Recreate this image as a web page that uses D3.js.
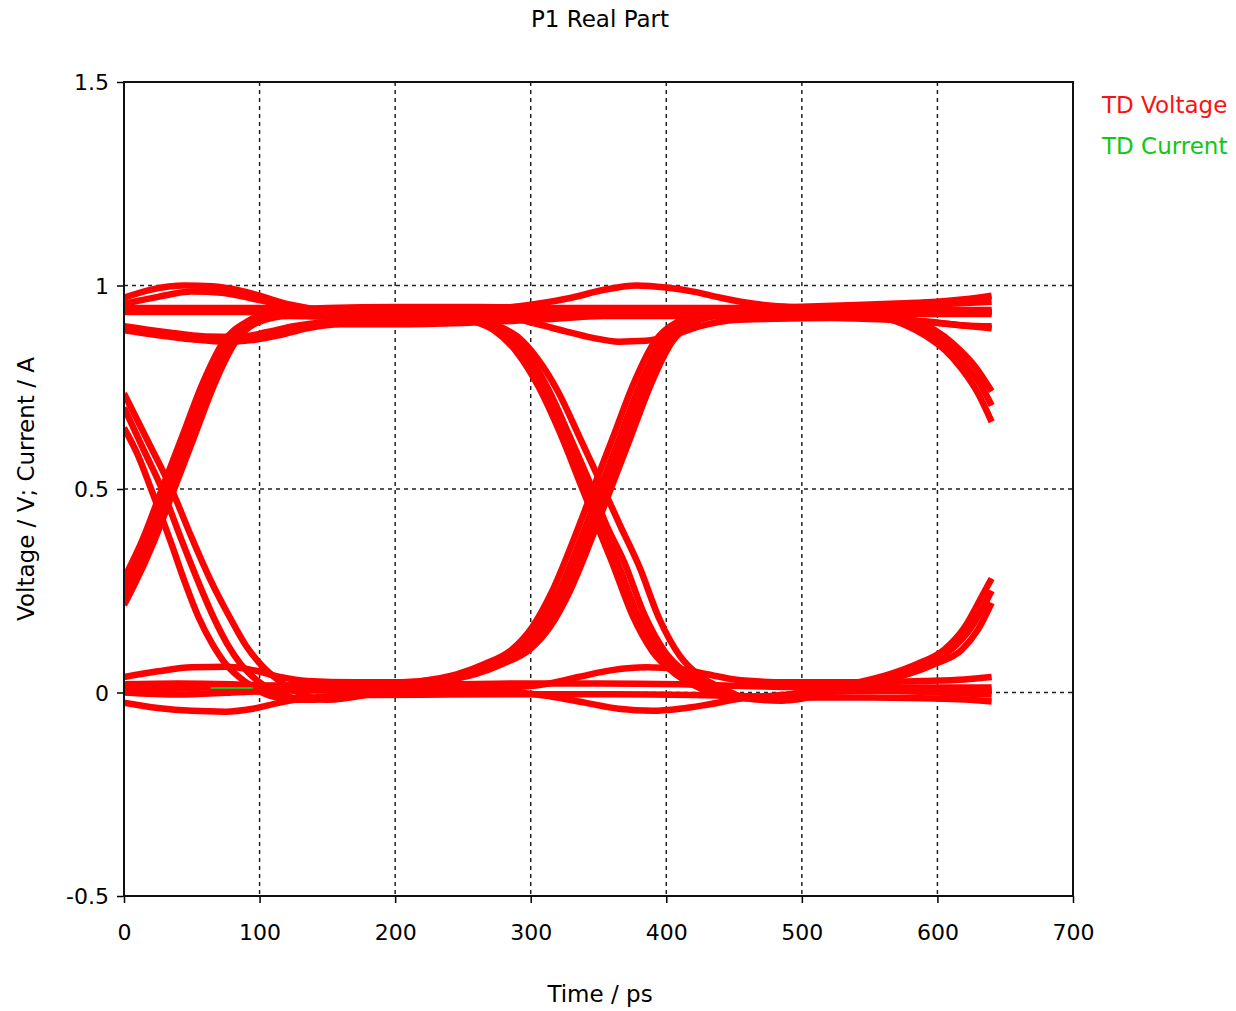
<!DOCTYPE html>
<html><head><meta charset="utf-8">
<script src="https://cdn.jsdelivr.net/npm/d3@7"></script>
<style>
html,body{margin:0;padding:0;background:#fff;}
svg{display:block;font-family:"DejaVu Sans",sans-serif;}
</style></head>
<body><svg id="chart" width="1236" height="1011"></svg>
<script>
// ---- tick labels ----
const xTicks = [0,100,200,300,400,500,600,700];
const yTicks = [-0.5,0,0.5,1,1.5];
const yTickLabels = ["-0.5","0","0.5","1","1.5"];
const xGrid = [100,200,300,400,500,600];
const yGrid = [0,0.5,1];
const seriesNames = ["TD Voltage","TD Current"];

// ---- TD Voltage traces: [time ps, voltage V] ----
const trace01 = [[0,0.28],[13,0.37],[28,0.5],[43,0.63],[58,0.76],[73,0.86],[90,0.91],[113,0.935],[150,0.945],[200,0.947],[260,0.947],[320,0.945],[380,0.945],[440,0.945],[500,0.948],[540,0.952],[570,0.956],[600,0.96],[620,0.966],[640,0.975]];
const trace02 = [[0,0.255],[16,0.37],[31,0.5],[46,0.63],[61,0.76],[76,0.86],[93,0.91],[116,0.93],[160,0.935],[200,0.935],[230,0.93],[255,0.915],[273,0.89],[290,0.835],[306,0.75],[322,0.635],[337,0.51],[349,0.41],[360,0.32],[375,0.19],[390,0.10],[405,0.05],[422,0.015],[440,-0.008],[465,-0.015],[500,0.0],[535,0.02],[565,0.045],[585,0.07],[605,0.105],[620,0.16],[635,0.25],[640,0.28]];
const trace03 = [[0,0.235],[4,0.26],[19,0.37],[34,0.5],[49,0.63],[64,0.76],[79,0.86],[96,0.91],[119,0.93],[170,0.94],[230,0.94],[280,0.945],[305,0.955],[330,0.97],[355,0.99],[378,1.0],[400,0.995],[420,0.985],[440,0.97],[465,0.955],[500,0.945],[530,0.935],[555,0.925],[575,0.905],[592,0.875],[606,0.84],[618,0.795],[630,0.735],[640,0.665]];
const trace04 = [[0,0.215],[7,0.26],[22,0.37],[37,0.5],[52,0.63],[67,0.76],[82,0.86],[99,0.91],[122,0.925],[170,0.922],[220,0.92],[240,0.925],[264,0.91],[282,0.885],[298,0.83],[313,0.745],[328,0.635],[343,0.52],[356,0.41],[369,0.32],[384,0.19],[399,0.10],[414,0.05],[431,0.015],[449,-0.008],[474,-0.015],[510,0.0],[560,0.005],[600,0.005],[640,0.005]];
const trace05 = [[0,0.97],[20,0.99],[45,1.0],[65,0.998],[85,0.988],[100,0.975],[120,0.955],[150,0.94],[200,0.935],[260,0.935],[320,0.935],[380,0.935],[440,0.935],[500,0.935],[540,0.935],[562,0.925],[582,0.905],[598,0.875],[611,0.84],[622,0.80],[632,0.755],[640,0.705]];
const trace06 = [[0,0.955],[25,0.972],[50,0.985],[72,0.982],[92,0.97],[112,0.955],[140,0.94],[190,0.93],[220,0.925],[250,0.92],[272,0.905],[290,0.875],[305,0.82],[320,0.74],[335,0.635],[351,0.52],[366,0.41],[380,0.31],[395,0.18],[410,0.09],[425,0.04],[442,0.01],[460,-0.015],[485,-0.02],[515,-0.005],[545,0.025],[570,0.045],[590,0.07],[610,0.105],[625,0.16],[640,0.25]];
const trace07 = [[0,0.935],[40,0.935],[80,0.935],[120,0.935],[180,0.93],[240,0.925],[285,0.92],[305,0.905],[325,0.888],[345,0.872],[365,0.862],[385,0.864],[405,0.878],[425,0.9],[450,0.915],[480,0.918],[520,0.92],[560,0.92],[590,0.912],[615,0.903],[640,0.895]];
const trace08 = [[0,0.89],[25,0.878],[50,0.868],[75,0.862],[95,0.866],[115,0.878],[135,0.895],[160,0.905],[200,0.905],[250,0.908],[300,0.915],[350,0.925],[400,0.93],[450,0.93],[500,0.93],[550,0.935],[600,0.935],[640,0.935]];
const trace09 = [[0,0.65],[10,0.585],[20,0.5],[35,0.365],[45,0.27],[55,0.185],[65,0.12],[75,0.07],[90,0.025],[108,-0.008],[130,-0.018],[160,-0.005],[190,0.005],[216,0.025],[246,0.045],[266,0.07],[286,0.105],[301,0.16],[316,0.25],[331,0.37],[346,0.5],[361,0.63],[376,0.76],[391,0.86],[408,0.91],[431,0.93],[480,0.935],[540,0.935],[600,0.935],[640,0.935]];
const trace10 = [[0,0.70],[14,0.6],[28,0.5],[43,0.37],[55,0.27],[66,0.185],[76,0.12],[86,0.07],[100,0.025],[118,-0.008],[140,-0.018],[170,-0.005],[220,0.01],[280,0.012],[310,0.02],[335,0.038],[360,0.055],[385,0.062],[410,0.058],[430,0.045],[455,0.03],[490,0.025],[540,0.025],[590,0.028],[620,0.032],[640,0.038]];
const trace11 = [[0,0.735],[18,0.615],[35,0.5],[50,0.38],[64,0.275],[78,0.185],[90,0.115],[102,0.065],[116,0.025],[132,-0.005],[150,-0.018],[180,-0.005],[200,0.01],[221,0.025],[251,0.045],[271,0.07],[291,0.105],[306,0.16],[321,0.25],[336,0.37],[351,0.5],[366,0.63],[381,0.76],[396,0.86],[413,0.91],[436,0.93],[480,0.935],[520,0.935],[548,0.935],[570,0.925],[590,0.905],[605,0.875],[617,0.84],[628,0.80],[640,0.74]];
const trace12 = [[0,0.038],[25,0.052],[50,0.062],[75,0.063],[95,0.055],[115,0.038],[135,0.028],[170,0.025],[200,0.025],[225,0.03],[255,0.045],[275,0.07],[295,0.105],[310,0.16],[325,0.25],[340,0.37],[355,0.5],[370,0.63],[385,0.76],[400,0.86],[417,0.91],[440,0.925],[480,0.925],[530,0.92],[570,0.915],[600,0.908],[620,0.902],[640,0.9]];
const trace13 = [[0,0.015],[40,0.015],[80,0.01],[120,0.005],[170,0.005],[230,0.005],[290,0.0],[315,-0.01],[340,-0.025],[365,-0.04],[390,-0.045],[410,-0.04],[430,-0.03],[455,-0.015],[490,-0.005],[520,0.005],[548,0.025],[578,0.045],[598,0.07],[618,0.105],[630,0.155],[640,0.22]];
const trace14 = [[0,0.0],[40,-0.005],[80,0.0],[120,0.005],[160,0.01],[200,0.015],[229,0.025],[259,0.045],[279,0.07],[299,0.105],[314,0.16],[329,0.25],[344,0.37],[359,0.5],[374,0.63],[389,0.76],[404,0.86],[421,0.91],[444,0.93],[490,0.94],[540,0.945],[580,0.95],[610,0.955],[640,0.96]];
const trace15 = [[0,-0.025],[25,-0.038],[50,-0.045],[75,-0.047],[95,-0.04],[115,-0.025],[140,-0.012],[180,-0.006],[240,-0.005],[300,-0.004],[360,-0.004],[420,-0.006],[470,-0.01],[510,-0.012],[550,-0.012],[590,-0.014],[620,-0.017],[640,-0.022]];
const trace16 = [[0,0.005],[40,0.01],[80,0.015],[120,0.018],[170,0.02],[230,0.02],[290,0.022],[350,0.022],[410,0.02],[470,0.015],[530,0.012],[590,0.012],[640,0.012]];
const trace17 = [[0,0.90],[30,0.886],[60,0.875],[85,0.874],[105,0.885],[125,0.9],[150,0.91],[200,0.912],[260,0.918],[320,0.925],[380,0.925],[440,0.925],[500,0.93],[560,0.93],[600,0.93],[640,0.93]];
const trace18 = [[0,0.945],[50,0.945],[100,0.945],[150,0.94],[200,0.932],[235,0.925],[260,0.912],[278,0.887],[294,0.832],[310,0.747],[325,0.635],[340,0.515],[352,0.41],[364,0.32],[379,0.19],[394,0.10],[409,0.05],[426,0.015],[444,-0.008],[470,-0.012],[505,0.0],[550,0.005],[600,0.0],[640,-0.005]];
const trace19 = [[0,0.02],[40,0.022],[80,0.02],[120,0.015],[160,0.012],[195,0.015],[223,0.025],[253,0.045],[273,0.07],[293,0.105],[308,0.16],[323,0.25],[338,0.37],[353,0.5],[368,0.63],[383,0.76],[398,0.86],[415,0.91],[438,0.93],[480,0.94],[530,0.94],[570,0.94],[610,0.94],[640,0.94]];
const voltageTraces = [trace01,trace02,trace03,trace04,trace05,trace06,trace07,trace08,trace09,trace10,trace11,trace12,trace13,trace14,trace15,trace16,trace17,trace18,trace19];

// ---- TD Current (mostly hidden behind voltage traces) ----
const currentTrace = [[64,0.011],[95,0.011]];

// ---- layout ----
const svg = d3.select("#chart");
const L = 124, R = 1073, T = 82, B = 896;
const x = d3.scaleLinear().domain([0,700]).range([L,R]);
const y = d3.scaleLinear().domain([-0.5,1.5]).range([B,T]);

svg.append("defs").append("clipPath").attr("id","clip")
  .append("rect").attr("x",L).attr("y",T).attr("width",R-L).attr("height",B-T);

// grid
const grid = svg.append("g").attr("stroke","#222").attr("stroke-width",1.5).attr("stroke-dasharray","4,4");
grid.selectAll("line.v").data(xGrid).join("line").attr("class","v")
  .attr("x1",d=>x(d)).attr("x2",d=>x(d)).attr("y1",T).attr("y2",B);
grid.selectAll("line.h").data(yGrid).join("line").attr("class","h")
  .attr("x1",L).attr("x2",R).attr("y1",d=>y(d)).attr("y2",d=>y(d));

// traces
const line = d3.line().x(d=>x(d[0])).y(d=>y(d[1])).curve(d3.curveMonotoneX);
const plot = svg.append("g").attr("clip-path","url(#clip)");
plot.selectAll("path.v").data(voltageTraces).join("path").attr("class","v")
  .attr("d",line).attr("fill","none").attr("stroke","#ff0000")
  .attr("stroke-width",6.5).attr("stroke-linejoin","round").attr("stroke-linecap","butt");
plot.append("path").datum(currentTrace).attr("d",line).attr("fill","none")
  .attr("stroke","#19c119").attr("stroke-width",2);

// axes
const xAxis = svg.append("g").attr("transform",`translate(0,${B})`)
  .call(d3.axisBottom(x).tickValues(xTicks).tickSize(7).tickSizeOuter(0).tickFormat(d3.format("d")));
xAxis.select(".domain").remove();
xAxis.selectAll(".tick line").attr("stroke","#000").attr("stroke-width",1.5);
xAxis.selectAll(".tick text").attr("y",28).attr("dy","0.71em")
  .attr("font-size",22).attr("font-family","DejaVu Sans").attr("fill","#000");

const yAxis = svg.append("g").attr("transform",`translate(${L},0)`)
  .call(d3.axisLeft(y).tickValues(yTicks).tickSize(7).tickSizeOuter(0).tickFormat((d,i)=>yTickLabels[i]));
yAxis.select(".domain").remove();
yAxis.selectAll(".tick line").attr("stroke","#000").attr("stroke-width",1.5);
yAxis.selectAll(".tick text").attr("x",-15).attr("dy","0.36em")
  .attr("font-size",22).attr("font-family","DejaVu Sans").attr("fill","#000");

// frame
svg.append("rect").attr("x",L).attr("y",T).attr("width",R-L).attr("height",B-T)
  .attr("fill","none").attr("stroke","#111").attr("stroke-width",2);

// title and axis labels
svg.append("text").attr("x",600).attr("y",27).attr("text-anchor","middle")
  .attr("font-size",23).attr("fill","#000").text("P1 Real Part");
svg.append("text").attr("x",600).attr("y",1002).attr("text-anchor","middle")
  .attr("font-size",23).attr("fill","#000").text("Time / ps");
svg.append("text").attr("transform","translate(34,489) rotate(-90)").attr("text-anchor","middle")
  .attr("font-size",23).attr("fill","#000").text("Voltage / V; Current / A");

// legend
const legendColors = ["#ff1010","#10c810"];
svg.selectAll("text.leg").data(seriesNames).join("text").attr("class","leg")
  .attr("x",1102).attr("y",(d,i)=>113+i*41).attr("font-size",23)
  .attr("fill",(d,i)=>legendColors[i]).text(d=>d);
</script></body></html>
